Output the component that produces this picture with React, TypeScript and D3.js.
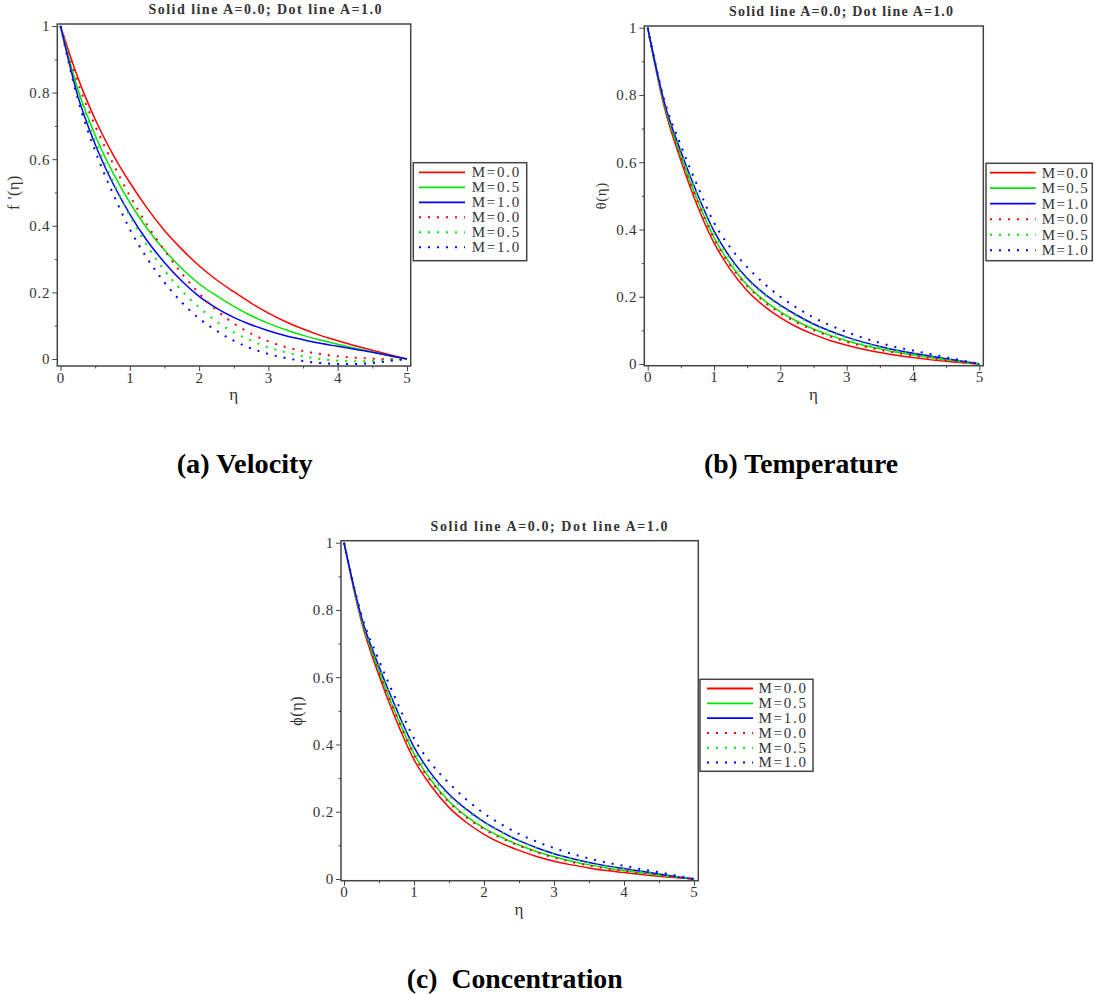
import React, { useEffect, useRef } from "react";
import * as d3 from "d3";

// similarity variable samples (step 0.25)
const eta = [0, 0.25, 0.5, 0.75, 1, 1.25, 1.5, 1.75, 2, 2.25, 2.5, 2.75, 3, 3.25, 3.5, 3.75, 4, 4.25, 4.5, 4.75, 5];

const seriesNames = ["M=0.0", "M=0.5", "M=1.0"];
const seriesColors = ["#ff0000", "#00e600", "#0000ff"];

const xTicks = [0, 1, 2, 3, 4, 5];
const xMinorTicks = [0.5, 1.5, 2.5, 3.5, 4.5];
const yTicks = [0, 0.2, 0.4, 0.6, 0.8, 1];
const yMinorTicks = [0.1, 0.3, 0.5, 0.7, 0.9];
const xTickLabels = ["0", "1", "2", "3", "4", "5"];
const yTickLabels = ["0", "0.2", "0.4", "0.6", "0.8", "1"];

const plotTitle = "Solid line A=0.0; Dot line A=1.0";

// (a) velocity f'(eta)
const velSolidM00 = [1, 0.845, 0.72, 0.617, 0.53, 0.453, 0.386, 0.33, 0.28, 0.238, 0.202, 0.168, 0.138, 0.112, 0.09, 0.071, 0.055, 0.04, 0.026, 0.013, 0];
const velSolidM05 = [1, 0.81, 0.672, 0.562, 0.47, 0.392, 0.327, 0.272, 0.226, 0.19, 0.158, 0.13, 0.107, 0.088, 0.071, 0.057, 0.044, 0.032, 0.021, 0.01, 0];
const velSolidM10 = [1, 0.79, 0.645, 0.53, 0.435, 0.355, 0.29, 0.234, 0.188, 0.153, 0.125, 0.103, 0.085, 0.07, 0.058, 0.047, 0.038, 0.029, 0.02, 0.01, 0];
const velDotM00 = [1, 0.83, 0.7, 0.59, 0.49, 0.403, 0.326, 0.257, 0.197, 0.147, 0.107, 0.076, 0.053, 0.036, 0.024, 0.015, 0.008, 0.004, 0.001, 0, 0];
const velDotM05 = [1, 0.8, 0.655, 0.537, 0.43, 0.34, 0.266, 0.205, 0.155, 0.113, 0.08, 0.055, 0.035, 0.02, 0.008, 0, -0.005, -0.007, -0.006, -0.003, 0];
const velDotM10 = [1, 0.78, 0.625, 0.5, 0.39, 0.302, 0.23, 0.17, 0.122, 0.085, 0.055, 0.032, 0.015, 0.003, -0.006, -0.012, -0.015, -0.015, -0.012, -0.006, 0];

// (b) temperature theta(eta)
const tempSolidM00 = [1, 0.765, 0.605, 0.47, 0.36, 0.28, 0.218, 0.173, 0.138, 0.11, 0.088, 0.07, 0.056, 0.044, 0.034, 0.026, 0.019, 0.013, 0.008, 0.004, 0];
const tempSolidM05 = [1, 0.772, 0.618, 0.487, 0.376, 0.296, 0.235, 0.19, 0.155, 0.127, 0.104, 0.085, 0.069, 0.056, 0.045, 0.035, 0.027, 0.019, 0.012, 0.006, 0];
const tempSolidM10 = [1, 0.778, 0.632, 0.505, 0.395, 0.315, 0.255, 0.21, 0.175, 0.145, 0.119, 0.098, 0.08, 0.065, 0.052, 0.041, 0.032, 0.024, 0.016, 0.008, 0];
const tempDotM00 = [1, 0.77, 0.615, 0.484, 0.372, 0.292, 0.232, 0.186, 0.151, 0.123, 0.101, 0.082, 0.066, 0.053, 0.042, 0.033, 0.025, 0.018, 0.011, 0.005, 0];
const tempDotM05 = [1, 0.776, 0.63, 0.502, 0.39, 0.31, 0.252, 0.208, 0.172, 0.143, 0.117, 0.096, 0.078, 0.063, 0.05, 0.04, 0.031, 0.023, 0.015, 0.007, 0];
const tempDotM10 = [1, 0.785, 0.65, 0.53, 0.42, 0.345, 0.288, 0.24, 0.2, 0.167, 0.138, 0.115, 0.095, 0.078, 0.063, 0.05, 0.04, 0.03, 0.02, 0.01, 0];

// (c) concentration phi(eta)
const concSolidM00 = [1, 0.765, 0.605, 0.47, 0.355, 0.275, 0.213, 0.168, 0.133, 0.106, 0.085, 0.067, 0.053, 0.042, 0.033, 0.025, 0.019, 0.013, 0.008, 0.004, 0];
const concSolidM05 = [1, 0.772, 0.618, 0.487, 0.372, 0.292, 0.231, 0.186, 0.151, 0.124, 0.101, 0.082, 0.066, 0.053, 0.042, 0.033, 0.025, 0.018, 0.011, 0.005, 0];
const concSolidM10 = [1, 0.778, 0.632, 0.505, 0.392, 0.312, 0.252, 0.207, 0.17, 0.14, 0.114, 0.093, 0.075, 0.061, 0.049, 0.039, 0.031, 0.023, 0.015, 0.007, 0];
const concDotM00 = [1, 0.77, 0.615, 0.484, 0.368, 0.288, 0.228, 0.183, 0.148, 0.121, 0.099, 0.08, 0.064, 0.051, 0.04, 0.031, 0.024, 0.017, 0.011, 0.005, 0];
const concDotM05 = [1, 0.776, 0.63, 0.502, 0.386, 0.306, 0.248, 0.204, 0.168, 0.139, 0.114, 0.093, 0.076, 0.061, 0.049, 0.039, 0.031, 0.023, 0.015, 0.007, 0];
const concDotM10 = [1, 0.785, 0.65, 0.53, 0.418, 0.342, 0.285, 0.236, 0.195, 0.162, 0.134, 0.111, 0.092, 0.075, 0.061, 0.049, 0.039, 0.029, 0.02, 0.01, 0];

const panels = [
  {
    x0: 60.5, x1: 407, y0: 359, y1: 26,
    frame: [57.3, 24, 410.7, 366],
    titleX: 265, titleY: 13.5, titleW: 233,
    ylabel: "f '(η)", ylabelX: 13, ylabelSize: 16,
    xlabelY: 400,
    legend: { x: 413.3, y: 162.7, w: 113.4, h: 98, row0: 172.3, step: 15, l0: 419, l1: 465, tx: 471.7, tw: 47.5 },
    solid: [velSolidM00, velSolidM05, velSolidM10],
    dotted: [velDotM00, velDotM05, velDotM10],
  },
  {
    x0: 647.7, x1: 979.3, y0: 364, y1: 27.7,
    frame: [644.3, 26, 983.3, 365.7],
    titleX: 841, titleY: 15.5, titleW: 224,
    ylabel: "θ(η)", ylabelX: 601, ylabelSize: 15,
    xlabelY: 400,
    legend: { x: 986, y: 163.3, w: 106.3, h: 97.4, row0: 172.7, step: 15.5, l0: 990, l1: 1035.7, tx: 1041.7, tw: 46 },
    solid: [tempSolidM00, tempSolidM05, tempSolidM10],
    dotted: [tempDotM00, tempDotM05, tempDotM10],
  },
  {
    x0: 344, x1: 694, y0: 879, y1: 542.7,
    frame: [341, 540.7, 698.3, 880.7],
    titleX: 549, titleY: 530.5, titleW: 237,
    ylabel: "ϕ(η)", ylabelX: 296, ylabelSize: 16,
    xlabelY: 915,
    legend: { x: 700, y: 679.3, w: 113, h: 92, row0: 688.5, step: 14.8, l0: 707, l1: 753, tx: 758.5, tw: 47.5 },
    solid: [concSolidM00, concSolidM05, concSolidM10],
    dotted: [concDotM00, concDotM05, concDotM10],
  },
];

const captions = [
  { text: "(a) Velocity", x: 176.7, y: 473, w: 136 },
  { text: "(b) Temperature", x: 704, y: 473, w: 194 },
  { text: "(c)  Concentration", x: 406.7, y: 988, w: 216 },
];

const serif = "\"Liberation Serif\", \"Times New Roman\", Times, Tinos, \"Nimbus Roman\", serif";

function drawPanel(svg: any, p: any) {
  const x = d3.scaleLinear().domain([0, 5]).range([p.x0, p.x1]);
  const y = d3.scaleLinear().domain([0, 1]).range([p.y0, p.y1]);
  const [fl, ft, fr, fb] = p.frame;
  const g = svg.append("g");

  const line = d3.line<number>()
    .x((d, i) => x(eta[i]))
    .y(d => y(d))
    .curve(d3.curveMonotoneX);

  p.solid.forEach((vals: number[], k: number) => {
    g.append("path")
      .attr("d", line(vals))
      .attr("fill", "none")
      .attr("stroke", seriesColors[k])
      .attr("stroke-width", 1.5);
  });
  p.dotted.forEach((vals: number[], k: number) => {
    g.append("path")
      .attr("d", line(vals))
      .attr("fill", "none")
      .attr("stroke", seriesColors[k])
      .attr("stroke-width", 2)
      .attr("stroke-dasharray", "2,7");
  });

  g.append("rect")
    .attr("x", fl).attr("y", ft)
    .attr("width", fr - fl).attr("height", fb - ft)
    .attr("fill", "none")
    .attr("stroke", "#444")
    .attr("stroke-width", 1.5);

  const styleAxis = (a: any) => {
    a.select(".domain").remove();
    a.attr("color", "#444")
      .attr("font-family", null)
      .attr("font-size", null);
    a.selectAll("text")
      .attr("fill", "#333")
      .style("font-family", serif)
      .style("font-size", "15px")
      .attr("letter-spacing", 0.8);
  };

  g.append("g")
    .attr("transform", `translate(0,${fb})`)
    .call(d3.axisBottom(x).tickValues(xTicks).tickSize(5).tickPadding(1)
      .tickFormat((d, i) => xTickLabels[i]))
    .call(styleAxis);
  g.append("g")
    .attr("transform", `translate(0,${fb})`)
    .call(d3.axisBottom(x).tickValues(xMinorTicks).tickSize(2.5).tickFormat(() => ""))
    .call(styleAxis);
  g.append("g")
    .attr("transform", `translate(${fl},0)`)
    .call(d3.axisLeft(y).tickValues(yTicks).tickSize(5).tickPadding(2)
      .tickFormat((d, i) => yTickLabels[i]))
    .call(styleAxis);
  g.append("g")
    .attr("transform", `translate(${fl},0)`)
    .call(d3.axisLeft(y).tickValues(yMinorTicks).tickSize(2.5).tickFormat(() => ""))
    .call(styleAxis);

  // title
  g.append("text")
    .attr("x", p.titleX - p.titleW / 2)
    .attr("y", p.titleY)
    .attr("textLength", p.titleW)
    .attr("lengthAdjust", "spacing")
    .style("font-family", serif)
    .style("font-weight", "bold")
    .style("font-size", "14px")
    .attr("fill", "#333")
    .text(plotTitle);

  // axis labels
  g.append("text")
    .attr("x", (p.x0 + p.x1) / 2)
    .attr("y", p.xlabelY)
    .attr("text-anchor", "middle")
    .style("font-family", serif)
    .style("font-size", "17px")
    .attr("fill", "#333")
    .text("η");
  g.append("text")
    .attr("transform", `translate(${p.ylabelX},${(p.y0 + p.y1) / 2}) rotate(-90)`)
    .attr("dy", "0.35em")
    .attr("text-anchor", "middle")
    .style("font-family", serif)
    .style("font-size", p.ylabelSize + "px")
    .attr("letter-spacing", 0.6)
    .attr("fill", "#333")
    .text(p.ylabel);

  // legend
  const L = p.legend;
  const lg = g.append("g");
  lg.append("rect")
    .attr("x", L.x).attr("y", L.y)
    .attr("width", L.w).attr("height", L.h)
    .attr("fill", "#fff")
    .attr("stroke", "#444")
    .attr("stroke-width", 1.5);
  const rows = [0, 1, 2, 3, 4, 5];
  rows.forEach(r => {
    const k = r % 3;
    const yy = L.row0 + r * L.step;
    lg.append("line")
      .attr("x1", L.l0).attr("x2", L.l1)
      .attr("y1", yy).attr("y2", yy)
      .attr("stroke", seriesColors[k])
      .attr("stroke-width", r < 3 ? 1.8 : 2)
      .attr("stroke-dasharray", r < 3 ? null : "2,7");
    lg.append("text")
      .attr("x", L.tx)
      .attr("y", yy)
      .attr("dy", "0.33em")
      .attr("textLength", L.tw)
      .attr("lengthAdjust", "spacing")
      .style("font-family", serif)
      .style("font-size", "15px")
      .attr("fill", "#333")
      .text(seriesNames[k]);
  });
}

export default function App() {
  const ref = useRef<SVGSVGElement>(null);

  useEffect(() => {
    const svg = d3.select(ref.current);
    svg.selectAll("*").remove();

    svg.append("rect").attr("width", 1094).attr("height", 994).attr("fill", "#fff");

    panels.forEach(p => drawPanel(svg, p));

    svg.append("g")
      .selectAll("text")
      .data(captions)
      .join("text")
      .attr("x", d => d.x)
      .attr("y", d => d.y)
      .attr("textLength", d => d.w)
      .attr("lengthAdjust", "spacingAndGlyphs")
      .style("font-family", serif)
      .style("font-weight", "bold")
      .style("font-size", "27px")
      .style("white-space", "pre")
      .attr("fill", "#000")
      .text(d => d.text);
  }, []);

  return (
    <svg
      ref={ref}
      width={1094}
      height={994}
      style={{ position: "absolute", left: 0, top: 0, display: "block" }}
    />
  );
}
